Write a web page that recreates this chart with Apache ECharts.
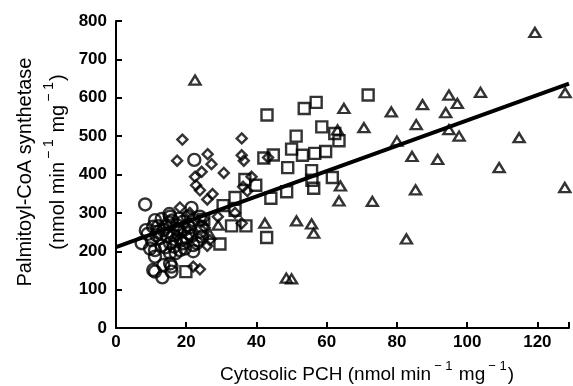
<!DOCTYPE html>
<html>
<head>
<meta charset="utf-8">
<script src="https://cdn.jsdelivr.net/npm/echarts@6/dist/echarts.min.js"></script>
<style>
html,body{margin:0;padding:0;background:#fff;}
#chart{width:573px;height:386px;}
</style>
</head>
<body>
<div id="chart"></div>
<script>
// Circles
var circleX = [8.3,21.5,22.3,11.1,13,15.2,15.4,10.6,14.4,17.3,19.1,22,23.9,7.3,10.2,9.7,11.1,11.1,15.4,18.2,19.1,23,13.5,16.3,18.2,20.6,23.9,12.5,15.4,13.5,10.6,13.2,11.1,15.8,15.8,15.4,19.6,22,23.4,24.4,21,17,14,20,22,9,16,12,18,20.5,12,14.5,17.5,19.5,21.5,13,16.5,18.5,11.5,20.5,24.5,15,17,8.5];
var circleY = [322,313,438,281,284,297,290,264,264,268,277,281,290,221,229,207,203,186,195,203,221,221,255,242,251,247,251,234,221,164,151,132,147,147,160,168,207,216,229,264,262,230,210,235,200,245,280,265,285,290,250,240,258,257,240,215,212,228,242,268,238,275,195,255];
// Diamonds
var diamondX = [17.4,18.9,35.8,26.1,27.2,30.7,35.8,36.4,22.5,24.4,22.8,23.9,27.5,26,18.2,33.9,26,23.9,22,38.6,36.2,37.4,35.8,43.3,25.3,26.7,25,29,21,17.5];
var diamondY = [436,491,494,453,427,404,450,436,394,407,372,359,349,335,314,300,214,153,160,394,368,357,273,444,261,229,285,290,300,240];
// Squares
var squareX = [71.8,57,53.6,43,58.6,51.3,62.3,63.5,50,53.1,56.6,59.7,44.8,42.1,48.9,55.7,55.8,56.3,61.6,39.8,36.7,44.1,48.6,33.9,30.5,32.9,37,42.9,29.6,25,19.9,33.9];
var squareY = [607,588,572,555,524,500,507,488,466,450,455,460,451,443,418,410,385,364,392,372,387,338,355,340,319,266,266,236,219,283,147,307];
// Triangles
var triX = [119.3,127.9,103.8,94.8,97.2,87.3,93.9,78.4,85.5,94.8,97.7,80,114.8,84.3,91.6,109.1,127.8,85.3,73,82.7,22.5,64.9,70.6,63.1,63.9,63.5,42.4,51.4,55.7,56.3,29.1,26.7,48.5,50];
var triY = [770,613,614,607,585,582,561,563,530,517,500,487,496,447,439,418,366,360,330,232,646,572,522,516,370,331,273,279,271,247,268,244,130,128];
// Regression line endpoints
var lineX = [0,129];
var lineY = [211,637];
// Axis ticks
var xTicks = [0,20,40,60,80,100,120];
var yTicks = [0,100,200,300,400,500,600,700,800];

function pairs(xs, ys){ return xs.map(function(x,i){ return [x, ys[i]]; }); }

var chart = echarts.init(document.getElementById('chart'));
var font = 'Liberation Sans, Arial, sans-serif';
var markStyle = {color:'rgba(0,0,0,0)', borderColor:'#000', borderWidth:2.4};
function titleRich(size){
  return {
    n:{fontSize:size, fontFamily:font, fill:'#000', color:'#000', lineHeight:size+6, verticalAlign:'bottom'},
    s:{fontSize:Math.round(size*0.68), fontFamily:font, fill:'#000', color:'#000', lineHeight:size+6, verticalAlign:'top', padding:[0,1,0,3]}
  };
}
var unitText = '{n|(nmol min}{s|\u2212 1}{n| mg}{s|\u2212 1}{n|)}';
chart.setOption({
  animation:false,
  backgroundColor:'#fff',
  grid:{left:116, top:21, width:453, height:307, containLabel:false},
  xAxis:{type:'value', min:0, max:129, interval:20,
    axisLine:{lineStyle:{color:'#000', width:2}},
    axisTick:{inside:true, length:6, lineStyle:{color:'#000', width:2}},
    axisLabel:{color:'#000', fontSize:17, fontWeight:'bold', fontFamily:font, margin:6,
      formatter:function(v){ return xTicks.indexOf(v)>=0 ? String(v) : ''; }},
    splitLine:{show:false}},
  yAxis:{type:'value', min:0, max:800, interval:100,
    axisLine:{show:true, lineStyle:{color:'#000', width:2}},
    axisTick:{show:true, inside:true, length:6, lineStyle:{color:'#000', width:2}},
    axisLabel:{color:'#000', fontSize:17, fontWeight:'bold', fontFamily:font, margin:9,
      formatter:function(v){ return yTicks.indexOf(v)>=0 ? String(v) : ''; }},
    splitLine:{show:false}},
  graphic:[
    {type:'text', x:367, y:372, style:{text:'{n|Cytosolic PCH }' + unitText, rich:titleRich(19), textAlign:'center', textVerticalAlign:'middle'}},
    {type:'text', x:22, y:172, rotation:Math.PI/2, style:{text:'{n|Palmitoyl-CoA synthetase}', rich:titleRich(20), textAlign:'center', textVerticalAlign:'middle'}},
    {type:'text', x:55, y:162, rotation:Math.PI/2, style:{text:unitText, rich:titleRich(20), textAlign:'center', textVerticalAlign:'middle'}}
  ],
  series:[
    {type:'line', data:pairs(lineX,lineY), symbol:'none', lineStyle:{color:'#000', width:4}, z:1},
    {type:'scatter', data:pairs(circleX,circleY), symbol:'circle', symbolSize:12, itemStyle:markStyle, z:2},
    {type:'scatter', data:pairs(diamondX,diamondY), symbol:'diamond', symbolSize:[10,10], itemStyle:markStyle, z:2},
    {type:'scatter', data:pairs(squareX,squareY), symbol:'rect', symbolSize:11, itemStyle:markStyle, z:2},
    {type:'scatter', data:pairs(triX,triY), symbol:'triangle', symbolSize:[11,9], itemStyle:markStyle, z:2}
  ]
});
</script>
</body>
</html>
